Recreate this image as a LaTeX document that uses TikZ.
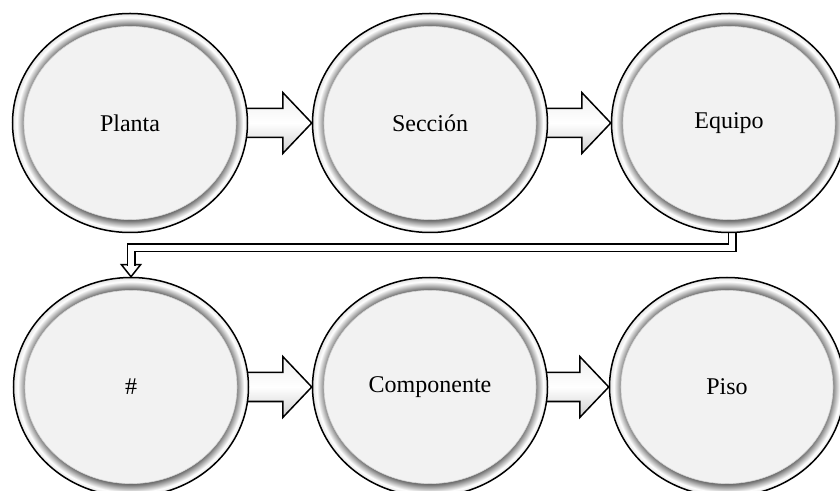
\documentclass[tikz,border=0pt]{standalone}
\usepackage{fontspec}
\setmainfont{Liberation Serif}
\usetikzlibrary{shapes.geometric,calc,backgrounds}

\definecolor{ringdark}{HTML}{6E6E6E}
\definecolor{ringlight}{HTML}{E4E4E4}
\definecolor{bubblefill}{HTML}{F2F2F2}

% bevelled ring of the bubbles: dark inner edge, light outer edge
\pgfdeclareradialshading{ring}{\pgfpoint{0bp}{0bp}}{%
  color(0bp)=(ringdark); color(22.2bp)=(ringdark);
  color(24.1bp)=(white); color(25bp)=(ringlight); color(50bp)=(ringlight)}

\tikzset{
  bubble/.style={ellipse, minimum width=117.5pt, minimum height=109.5pt,
    inner sep=0pt, draw=black, line width=0.75pt, shading=ring,
    font=\fontsize{12pt}{14pt}\selectfont,
    path picture={\fill[bubblefill, draw=gray!35, line width=0.3pt]
      (path picture bounding box.center) ellipse [x radius=53pt, y radius=48.3pt];}},
  blockarrow/.style={draw=black, line width=0.75pt, line join=miter,
    top color=gray!12, bottom color=gray!38, middle color=white},
  elbowline/.style={draw=black, line width=0.75pt, double=white,
    double distance=3pt, line join=miter},
  elbowhead/.style={draw=black, fill=white, line width=0.75pt, line join=miter}
}

\begin{document}
\begin{tikzpicture}[x=0.5pt, y=-0.5pt]
  \useasboundingbox (0,0) rectangle (840,491);

  % first row
  \node[bubble] (planta)  at (130,123) {Planta};
  \node[bubble] (seccion) at (430,123) {Sección};
  \node[bubble] (equipo)  at (729,123) {Equipo};
  % second row
  \node[bubble] (hash)    at (131,387) {\#};
  \node[bubble] (compo)   at (430,387) {Componente};
  \node[bubble] (piso)    at (727,387) {Piso};

  \coordinate (rail) at (430,248);
  \coordinate (drop) at ($(equipo.south)+(3,0)$);

  \begin{scope}[on background layer]
    % block arrows between neighbours in a row
    \foreach \a/\b in {planta/seccion, seccion/equipo, hash/compo, compo/piso}{
      \draw[blockarrow]
        ($(\a.east)+(-6,-14.5)$) -- ($(\b.west)+(-29,-14.5)$)
        -- ($(\b.west)+(-29,-30.5)$) -- (\b.west)
        -- ($(\b.west)+(-29,30.5)$) -- ($(\b.west)+(-29,14.5)$)
        -- ($(\a.east)+(-6,14.5)$) -- cycle;
    }
    % elbow connector from the end of the first row to the start of the second
    \draw[elbowhead] (hash.north) -- ($(hash.north)+(-9.5,-12)$)
      -- ($(hash.north)+(9.5,-12)$) -- cycle;
    \draw[elbowline] ($(drop)+(0,-8)$) -- (drop |- rail)
      -- (hash.north |- rail) -- ($(hash.north)+(0,-11)$);
  \end{scope}
\end{tikzpicture}
\end{document}
